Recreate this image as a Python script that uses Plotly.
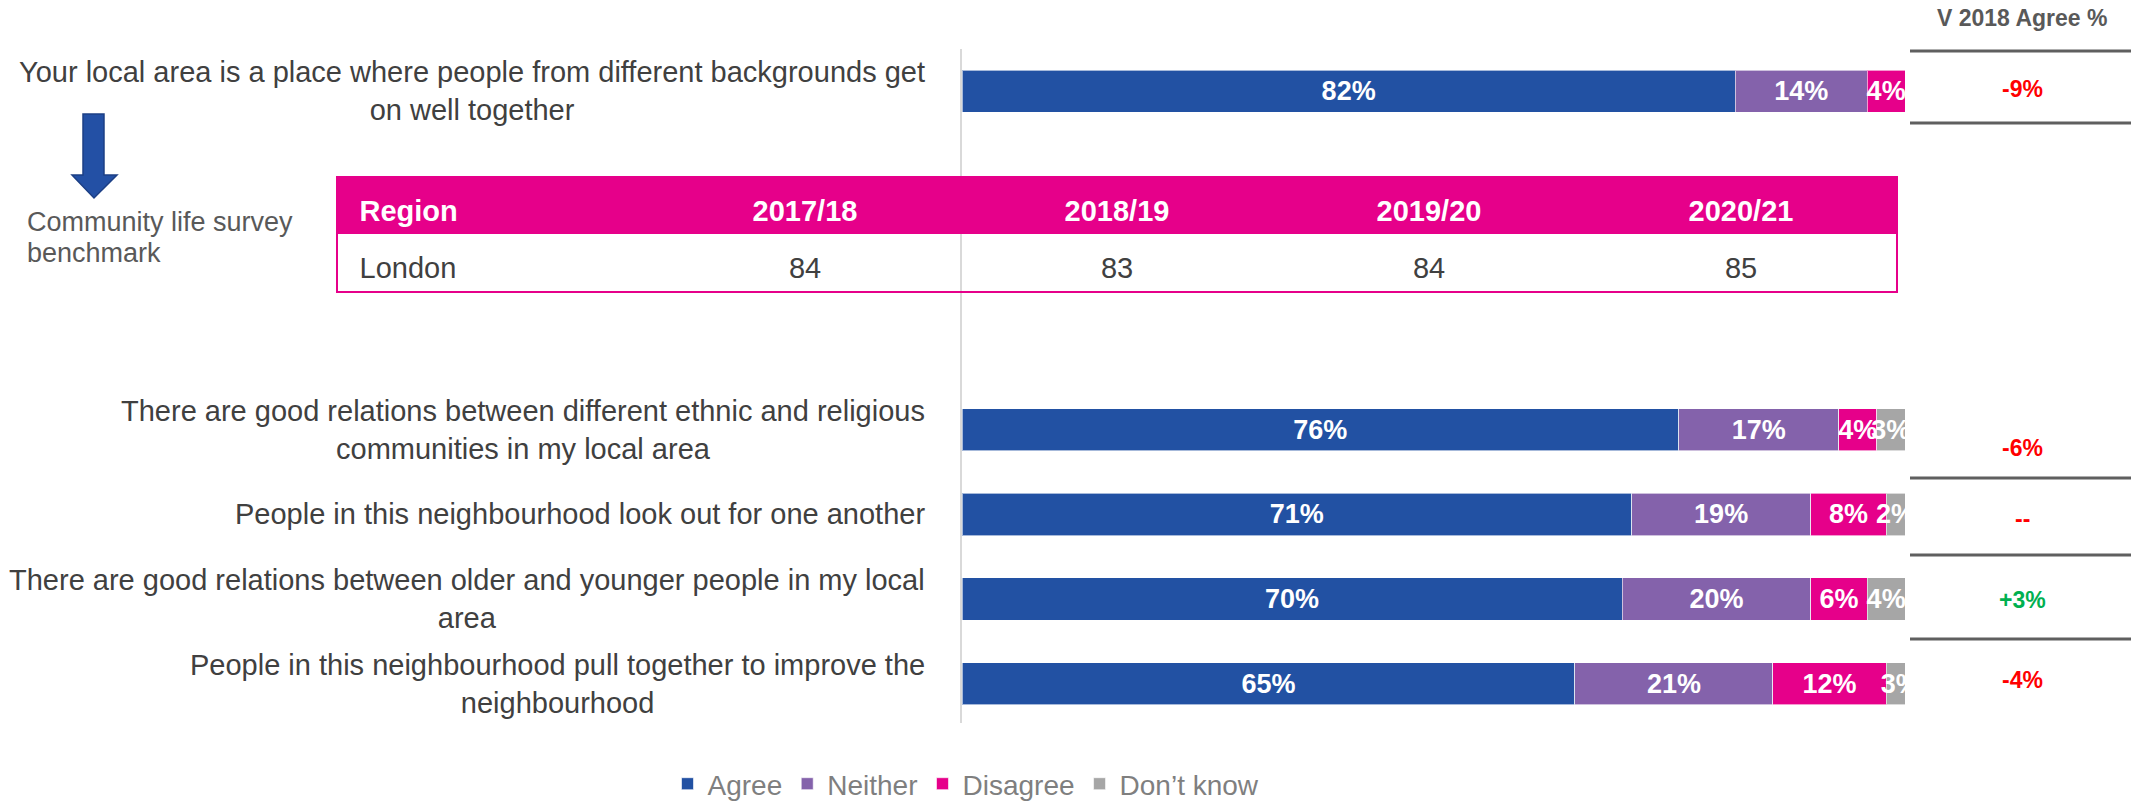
import plotly.graph_objects as go

# ---- survey results (percent of respondents) ----
questions = [
    "Your local area is a place where people from different backgrounds get<br>on well together",
    "There are good relations between different ethnic and religious<br>communities in my local area",
    "People in this neighbourhood look out for one another",
    "There are good relations between older and younger people in my local<br>area",
    "People in this neighbourhood pull together to improve the<br>neighbourhood",
]
agree = [82, 76, 71, 70, 65]
neither = [14, 17, 19, 20, 21]
disagree = [4, 4, 8, 6, 12]
dont_know = [None, 3, 2, 4, 3]

# change in agree % compared with 2018
change_header = "V 2018 Agree %"
change_vs_2018 = ["-9%", "-6%", "--", "+3%", "-4%"]

# community life survey benchmark table
benchmark_caption = ["Community life survey", "benchmark"]
benchmark_columns = ["Region", "2017/18", "2018/19", "2019/20", "2020/21"]
benchmark_row = ["London", 84, 83, 84, 85]

series_names = ["Agree", "Neither", "Disagree", "Don\u2019t know"]

# ---- styling ----
W, H = 2131, 803
FONT = "Liberation Sans, Arial, sans-serif"
BLUE = "#2251A3"
PURPLE = "#8462AB"
PINK = "#E6008A"
GREY = "#A6A6A6"
TEXT_DARK = "#404040"
AXIS_GREY = "#D9D9D9"
CHANGE_COLOURS = {"-": "#FF0000", "+": "#00B050"}

# pixel geometry of the figure
PLOT_LEFT, PLOT_RIGHT, PLOT_TOP, PLOT_BOTTOM = 962, 1905, 49, 726
TABLE_LEFT, TABLE_RIGHT, TABLE_TOP, TABLE_HEADER_BOTTOM, TABLE_BOTTOM = 337, 1897, 177, 234, 292
TABLE_TEXT_DROP = 14


def px(x):
    return x / W


def py(y):
    return 1 - y / H


# first question sits above the benchmark table, the rest below it
spacers = ["gap-1", "gap-2", "gap-3"]
category_order = [questions[0]] + spacers + questions[1:]

fig = go.Figure()

for name, values, colour in zip(series_names, [agree, neither, disagree, dont_know],
                                [BLUE, PURPLE, PINK, GREY]):
    fig.add_trace(go.Bar(
        name=name,
        y=questions,
        x=values,
        orientation="h",
        marker=dict(color=colour, line=dict(color="rgba(255,255,255,0.6)", width=1)),
        text=[f"{v}%" if v is not None else "" for v in values],
        textposition="inside",
        insidetextanchor="middle",
        textangle=0,
        constraintext="none",
        cliponaxis=True,
        insidetextfont=dict(family=FONT, size=27, color="white", weight="bold"),
        hoverinfo="skip",
    ))

# benchmark table (fills come from the shapes underneath so the text can sit mid-row)
fig.add_trace(go.Table(
    domain=dict(x=[px(TABLE_LEFT), px(TABLE_RIGHT)],
                y=[py(TABLE_BOTTOM + TABLE_TEXT_DROP), py(TABLE_TOP + TABLE_TEXT_DROP)]),
    columnwidth=[1] * len(benchmark_columns),
    header=dict(
        values=[("\u2002" + c if i == 0 else c) for i, c in enumerate(benchmark_columns)],
        fill_color="rgba(0,0,0,0)",
        line=dict(color="rgba(0,0,0,0)", width=0),
        align=["left"] + ["center"] * (len(benchmark_columns) - 1),
        font=dict(family=FONT, size=29, color="white", weight="bold"),
        height=57,
    ),
    cells=dict(
        values=[[("\u2002" + v) if i == 0 else v] for i, v in enumerate(benchmark_row)],
        fill_color="rgba(0,0,0,0)",
        line=dict(color="rgba(0,0,0,0)", width=0),
        align=["left"] + ["center"] * (len(benchmark_row) - 1),
        font=dict(family=FONT, size=29, color=TEXT_DARK),
        height=57,
    ),
))

annotations = []

# question labels to the left of the bars
for q in questions:
    annotations.append(dict(
        x=px(927), xref="paper", xanchor="right",
        y=q, yref="y", yanchor="middle",
        text=q, align="center", showarrow=False,
        font=dict(family=FONT, size=29, color=TEXT_DARK),
    ))

# change-vs-2018 column
annotations.append(dict(
    x=px(2022), xref="paper", y=py(18), yref="paper",
    text=change_header, showarrow=False, xanchor="center", yanchor="middle",
    font=dict(family=FONT, size=23, color="#595959", weight="bold"),
))
change_rows_y = [89, 448, 519, 600, 680]
for val, yy in zip(change_vs_2018, change_rows_y):
    annotations.append(dict(
        x=px(2022), xref="paper", y=py(yy), yref="paper",
        text=val, showarrow=False, xanchor="center", yanchor="middle",
        font=dict(family=FONT, size=23, color=CHANGE_COLOURS.get(val[0], "#595959"),
                  weight="bold"),
    ))

# benchmark caption, one annotation per line for tight leading
for line, yy in zip(benchmark_caption, [222, 253]):
    annotations.append(dict(
        x=px(25), xref="paper", xanchor="left",
        y=py(yy), yref="paper", yanchor="middle",
        text=line, align="left", showarrow=False,
        font=dict(family=FONT, size=27, color="#595959"),
    ))

shapes = []

# vertical axis rule at 0%
shapes.append(dict(
    type="line", xref="paper", yref="paper", layer="below",
    x0=px(PLOT_LEFT - 1), x1=px(PLOT_LEFT - 1), y0=py(PLOT_BOTTOM - 3), y1=py(PLOT_TOP),
    line=dict(color=AXIS_GREY, width=2),
))

# pink header band of the benchmark table
shapes.append(dict(
    type="rect", xref="paper", yref="paper", layer="below",
    x0=px(TABLE_LEFT), x1=px(TABLE_RIGHT), y0=py(TABLE_HEADER_BOTTOM), y1=py(TABLE_TOP),
    fillcolor=PINK, line=dict(width=0),
))

# pink border round the benchmark table
shapes.append(dict(
    type="rect", xref="paper", yref="paper", layer="above",
    x0=px(TABLE_LEFT), x1=px(TABLE_RIGHT), y0=py(TABLE_BOTTOM), y1=py(TABLE_TOP),
    line=dict(color=PINK, width=2),
))

# rules in the change column
for yy in [51, 123, 478, 555, 639]:
    shapes.append(dict(
        type="line", xref="paper", yref="paper",
        x0=px(1910), x1=1, y0=py(yy), y1=py(yy),
        line=dict(color="#5F5F5F", width=3),
    ))

# down arrow pointing at the benchmark
arrow_pts = [(83, 114), (104, 114), (104, 175), (117, 175), (94, 198),
             (72, 175), (83, 175)]
path = "M " + " L ".join(f"{px(x):.5f},{py(y):.5f}" for x, y in arrow_pts) + " Z"
shapes.append(dict(
    type="path", xref="paper", yref="paper", path=path,
    fillcolor="#2350A5", line=dict(color="#1C3F85", width=1.5),
))

fig.update_layout(
    width=W, height=H,
    margin=dict(l=0, r=0, t=0, b=0, autoexpand=False),
    paper_bgcolor="white", plot_bgcolor="rgba(0,0,0,0)",
    barmode="stack", bargap=0.5,
    font=dict(family=FONT, color=TEXT_DARK),
    xaxis=dict(domain=[px(PLOT_LEFT), px(PLOT_RIGHT)], range=[0, 100], visible=False,
               fixedrange=True),
    yaxis=dict(
        domain=[py(PLOT_BOTTOM), py(PLOT_TOP)],
        type="category", categoryorder="array", categoryarray=category_order,
        range=[len(category_order) - 0.5, -0.5],
        showticklabels=False, ticks="", showgrid=False, zeroline=False, showline=False,
        fixedrange=True,
    ),
    legend=dict(
        orientation="h", x=px(966), xanchor="center", y=py(784), yanchor="middle",
        font=dict(family=FONT, size=28, color="#7F7F7F"),
        bgcolor="rgba(0,0,0,0)", traceorder="normal",
    ),
    annotations=annotations,
    shapes=shapes,
)

fig.write_html("out.html")
